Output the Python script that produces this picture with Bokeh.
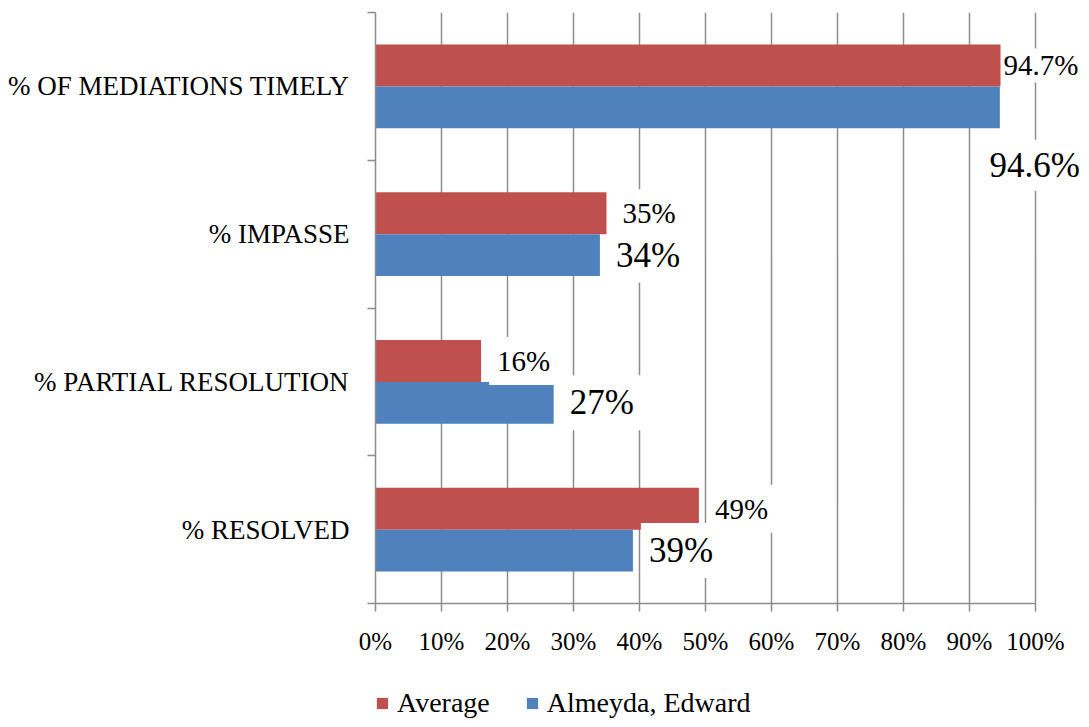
from bokeh.plotting import figure
from bokeh.layouts import column
from bokeh.models import ColumnDataSource, Range1d, FixedTicker, Label, Legend, LegendItem
from bokeh.transform import dodge
from bokeh.embed import file_html
from bokeh.resources import INLINE

# ---------------- data ----------------
categories = ["% OF MEDIATIONS TIMELY", "% IMPASSE", "% PARTIAL RESOLUTION", "% RESOLVED"]  # top to bottom
average = [94.7, 35, 16, 49]
almeyda = [94.6, 34, 27, 39]
series_names = ["Average", "Almeyda, Edward"]
x_ticks = [0, 10, 20, 30, 40, 50, 60, 70, 80, 90, 100]
x_tick_labels = ["0%", "10%", "20%", "30%", "40%", "50%", "60%", "70%", "80%", "90%", "100%"]

# ---------------- style / layout ----------------
FONT = "Liberation Serif"
RED = "#C0504D"
BLUE = "#4F81BD"
GRID = "#8C8C8C"
BAR_H = 0.284
W = 1081
H_MAIN = 665
H_LEG = 54
LEFT, TOP, BOTTOM_Y = 375, 12, 603
PX_PER_100 = 660  # pixel length of the 0..100 % span

n = len(categories)
ypos = [n - 1 - i for i in range(n)]
src = ColumnDataSource(dict(cat=categories, y=ypos, avg=average, alm=almeyda))

x_end = 100 * (W - LEFT) / PX_PER_100
p = figure(width=W, height=H_MAIN, output_backend="svg", toolbar_location=None,
           x_range=Range1d(0, x_end), y_range=Range1d(-0.5, n - 0.5),
           min_border_left=LEFT, min_border_right=0, min_border_top=TOP,
           min_border_bottom=H_MAIN - BOTTOM_Y)
p.outline_line_color = None
p.background_fill_color = "white"
p.border_fill_color = "white"

r_avg = p.hbar(y=dodge("y", BAR_H / 2), left=0, right="avg", height=BAR_H, source=src,
               fill_color=RED, line_color=None)
r_alm = p.hbar(y=dodge("y", -BAR_H / 2), left=0, right="alm", height=BAR_H, source=src,
               fill_color=BLUE, line_color=None)

# x axis
xa = p.xaxis[0]
xa.ticker = FixedTicker(ticks=x_ticks, minor_ticks=[])
xa.bounds = (x_ticks[0], x_ticks[-1])
xa.major_label_overrides = {t: l for t, l in zip(x_ticks, x_tick_labels)}
xa.axis_line_color = GRID
xa.axis_line_width = 1.5
xa.major_tick_line_color = GRID
xa.major_tick_line_width = 1.5
xa.major_tick_out = 8
xa.major_tick_in = 0
xa.minor_tick_line_color = None
xa.major_label_text_font = FONT
xa.major_label_text_font_size = "25px"
xa.major_label_text_color = "black"
xa.major_label_standoff = 16

# y axis
ya = p.yaxis[0]
ya.ticker = FixedTicker(ticks=ypos, minor_ticks=[k - 0.5 for k in range(n + 1)])
ya.major_label_overrides = {ypos[i]: categories[i] for i in range(n)}
ya.axis_line_color = GRID
ya.axis_line_width = 1.5
ya.major_tick_line_color = None
ya.major_tick_out = 0
ya.major_tick_in = 0
ya.minor_tick_line_color = GRID
ya.minor_tick_line_width = 1.5
ya.minor_tick_out = 8
ya.minor_tick_in = 0
ya.major_label_text_font = FONT
ya.major_label_text_font_size = "27px"
ya.major_label_text_color = "black"
ya.major_label_standoff = 18

p.xgrid.grid_line_color = GRID
p.xgrid.grid_line_width = 1.5
p.ygrid.visible = False

# data labels
def fmt(v):
    return f"{v:g}%"

special = {
    (0, "avg"): dict(dx=2, dy=0, align="left", pad=1),
    (0, "alm"): dict(dx=86, dy=-58, align="right", pad=6),
}
for i in range(n):
    for key, vals, off, size in (("avg", average, BAR_H / 2, "29px"), ("alm", almeyda, -BAR_H / 2, "35px")):
        s = special.get((i, key), dict(dx=8, dy=0, align="left", pad=8))
        p.add_layout(Label(x=vals[i], y=ypos[i] + off, text=fmt(vals[i]),
                           x_offset=s["dx"], y_offset=s["dy"],
                           text_align=s["align"], text_baseline="middle",
                           text_font=FONT, text_font_size=size, text_color="black",
                           background_fill_color="white", padding=s["pad"]))

# legend strip below the chart (its bars lie outside its view; only the legend shows)
q = figure(width=W, height=H_LEG, output_backend="svg", toolbar_location=None,
           x_axis_type=None, y_axis_type=None, x_range=Range1d(0, 1), y_range=Range1d(n + 1, n + 2),
           min_border_left=0, min_border_right=0, min_border_top=0, min_border_bottom=0)
q.outline_line_color = None
q.grid.visible = False
q_avg = q.hbar(y=dodge("y", BAR_H / 2), left=0, right="avg", height=BAR_H, source=src,
               fill_color=RED, line_color=None)
q_alm = q.hbar(y=dodge("y", -BAR_H / 2), left=0, right="alm", height=BAR_H, source=src,
               fill_color=BLUE, line_color=None)
legend = Legend(items=[LegendItem(label=series_names[0], renderers=[q_avg], index=0),
                       LegendItem(label=series_names[1], renderers=[q_alm], index=0)],
                orientation="horizontal", location=(0, 0),
                glyph_width=14, glyph_height=14, label_standoff=8, spacing=35,
                padding=0, margin=0, border_line_color=None, background_fill_alpha=0,
                label_text_font=FONT, label_text_font_size="28px", label_text_color="black")
q.add_layout(legend)

open("out.html", "w").write(file_html(column(p, q, spacing=0), INLINE))
